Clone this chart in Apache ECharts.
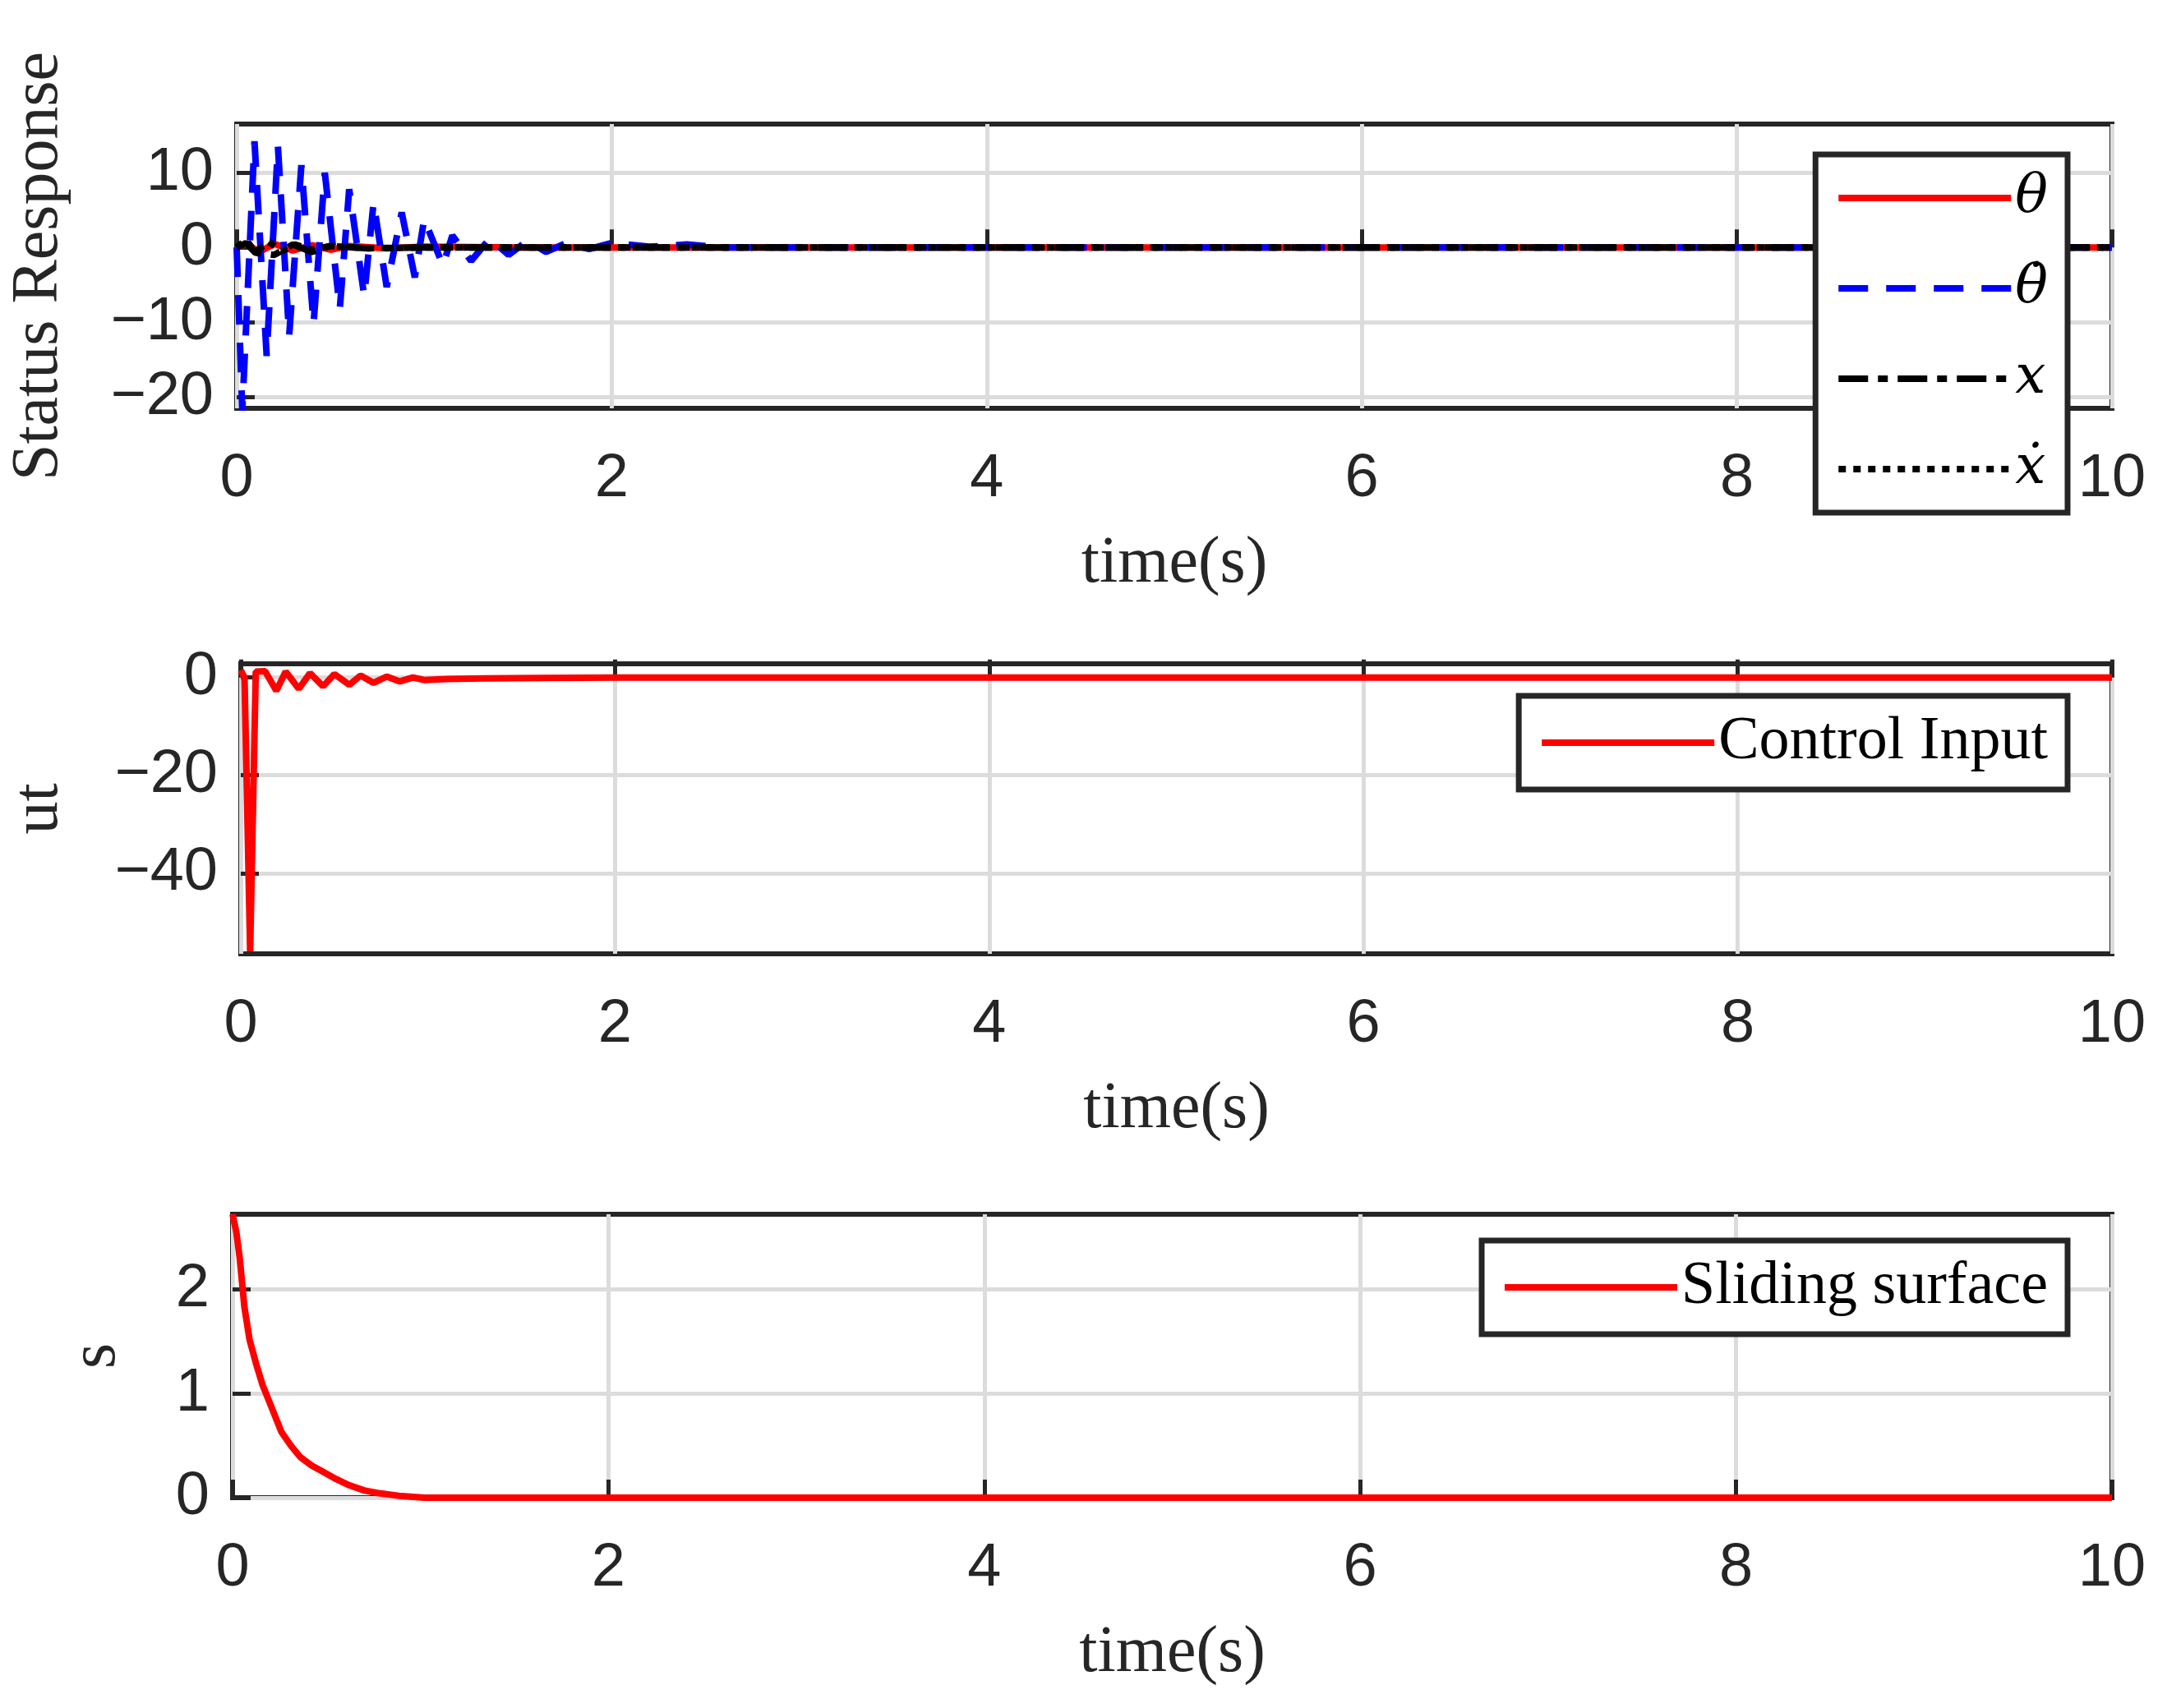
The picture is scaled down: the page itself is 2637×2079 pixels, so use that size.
<!DOCTYPE html>
<html><head><meta charset="utf-8">
<script src="https://cdn.jsdelivr.net/npm/echarts@6/dist/echarts.min.js"></script>
<style>html,body{margin:0;padding:0;background:#fff}#c{width:2637px;height:2079px}</style>
</head><body><div id="c"></div>
<script>
// Panel 1: state responses
const tThetaDot = [0,0.03,0.095,0.16,0.22,0.28,0.345,0.41,0.47,0.55,0.6,0.68,0.73,0.8,0.88,0.95,1.0,1.1,1.15,1.25,1.35,1.45,1.55,1.65,1.75,1.88,2.0,2.2,2.4,2.6,3,10];
const vThetaDot = [0,-21.8,14.2,-14.5,13.5,-11.8,11,-10.2,10,-8.2,7.8,-6.5,6,-5.3,4.7,-4,3.8,-2.4,1.6,-1.8,1.2,-1,0.9,-0.6,0.5,-0.2,0.6,0.1,0.4,0,0,0];
const tTheta = [0,0.05,0.12,0.2,0.3,0.4,0.5,0.6,0.8,1.0,1.5,2,10];
const vTheta = [0,0.5,-0.6,0.5,-0.4,0.3,-0.3,0.2,-0.1,0.1,0,0,0];
const tX = [0,0.05,0.1,0.2,0.3,0.4,0.5,0.7,1.0,1.5,10];
const vX = [0,0.6,-0.7,-1.0,0.4,-0.6,0.2,-0.1,0,0,0];
const tXDot = [0,0.05,0.1,0.17,0.24,0.31,0.4,0.5,0.7,1.0,10];
const vXDot = [0,1.0,-0.6,0.8,-0.5,0.4,-0.3,0.2,-0.1,0,0];
// Panel 2: control input
const tU = [0,0.02,0.05,0.08,0.13,0.19,0.24,0.31,0.37,0.44,0.5,0.58,0.64,0.71,0.78,0.85,0.92,0.98,1.1,1.3,1.6,2,10];
const vU = [1.5,0,-56,1.2,1.3,-2.7,1.2,-2.3,0.9,-1.8,0.7,-1.5,0.4,-1.1,0.2,-0.8,0,-0.5,-0.3,-0.2,-0.1,0,0];
// Panel 3: sliding surface
const tS = [0,0.02,0.038,0.063,0.09,0.126,0.16,0.2,0.26,0.31,0.36,0.42,0.47,0.55,0.62,0.7,0.77,0.9,1.02,1.5,10];
const vS = [2.72,2.55,2.3,1.83,1.52,1.28,1.08,0.9,0.63,0.5,0.39,0.31,0.26,0.18,0.12,0.07,0.045,0.015,0,0,0];

const xTicks = [0,2,4,6,8,10];
const yTicks1 = [-20,-10,0,10];
const yTicks2 = [-40,-20,0];
const yTicks3 = [0,1,2];

const zip = (t,v)=>t.map((x,i)=>[x,v[i]]);
const DK = '#262626';
const lab = {fontFamily:'Liberation Sans',fontSize:74,color:DK,formatter:v=>String(v).replace('-','\u2212')};
const nameStyle = {fontFamily:'Liberation Serif',fontSize:80,color:DK};
function xa(i){return {type:'value',gridIndex:i,min:0,max:10,interval:2,
  axisLine:{show:false},axisTick:{inside:true,length:22,lineStyle:{color:DK,width:5}},
  axisLabel:Object.assign({margin:50},lab),
  splitLine:{show:true,lineStyle:{color:'#dcdcdc',width:5}},
  name:'time(s)',nameLocation:'middle',nameGap:150,nameTextStyle:nameStyle};}
function ya(i,min,max,ticks,name,gap){return {type:'value',gridIndex:i,min:min,max:max,
  axisLine:{show:false},axisTick:{inside:true,length:22,lineStyle:{color:DK,width:5},customValues:ticks},
  axisLabel:Object.assign({margin:28,customValues:ticks},lab),
  splitLine:{show:true,lineStyle:{color:'#dcdcdc',width:5}},
  name:name,nameLocation:'middle',nameGap:gap,nameTextStyle:nameStyle};}
const gridBase = {show:true,borderColor:DK,borderWidth:6,left:283,width:2287,backgroundColor:'transparent'};
const legBase = {orient:'vertical',backgroundColor:'#fff',borderColor:DK,borderWidth:7,padding:[20,24,20,24],
  itemWidth:210,itemHeight:24,itemGap:40,itemStyle:{opacity:0},lineStyle:{width:8},
  textStyle:{fontFamily:'Liberation Serif',fontSize:74,color:'#000'}};
const line = (name,data,x,y,color,type)=>({name,type:'line',xAxisIndex:x,yAxisIndex:y,data,showSymbol:false,symbol:'none',
  lineStyle:{color,width:8,type:type||'solid'},itemStyle:{color}});

const opt = {
  animation:false,
  grid:[Object.assign({top:151,height:346},gridBase),Object.assign({top:808,height:353},gridBase),Object.assign({top:1478,height:345},gridBase)],
  xAxis:[xa(0),xa(1),xa(2)],
  yAxis:[ya(0,-21.5,16.5,yTicks1,'Status Response',200),ya(1,-56.5,2.8,yTicks2,'ut',205),ya(2,0,2.72,yTicks3,'s',125)],
  legend:[
    Object.assign({},legBase,{right:121,top:188,itemGap:44,data:['\u03b8','\u03b8\u0307','x','x\u0307'],
      textStyle:{fontFamily:'DejaVu Serif',fontStyle:'italic',fontSize:66,color:'#000'}}),
    Object.assign({},legBase,{right:121,top:847,data:['Control Input']}),
    Object.assign({},legBase,{right:121,top:1510,data:['Sliding surface']})
  ],
  series:[
    line('\u03b8',zip(tTheta,vTheta),0,0,'#ff0000'),
    line('\u03b8\u0307',zip(tThetaDot,vThetaDot),0,0,'#0000ff',[36,22]),
    line('x',zip(tX,vX),0,0,'#000000',[36,12,12,12]),
    line('x\u0307',zip(tXDot,vXDot),0,0,'#000000',[9,9]),
    line('Control Input',zip(tU,vU),1,1,'#ff0000'),
    line('Sliding surface',zip(tS,vS),2,2,'#ff0000')
  ]
};
echarts.init(document.getElementById('c'),null,{renderer:'canvas'}).setOption(opt);
</script></body></html>
